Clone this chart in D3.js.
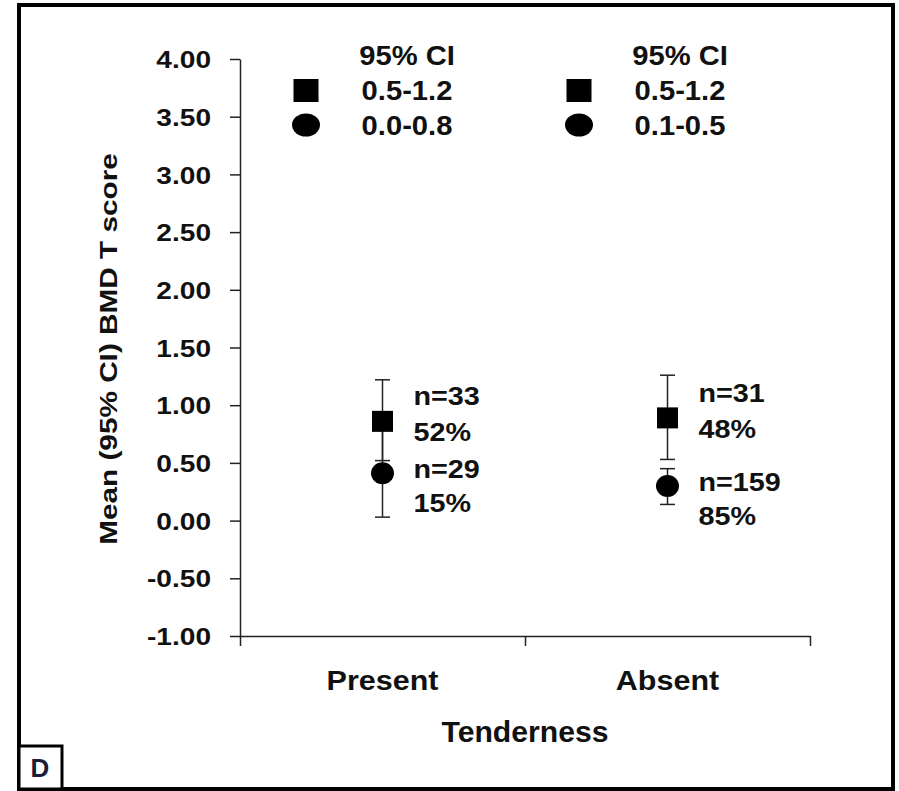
<!DOCTYPE html>
<html>
<head>
<meta charset="utf-8">
<script src="https://cdn.jsdelivr.net/npm/d3@7"></script>
<style>
  html, body { margin: 0; padding: 0; background: #fff; }
  svg { display: block; }
  text { font-family: "Liberation Sans", Arial, sans-serif; fill: #111; }
</style>
</head>
<body>
<svg id="chart" width="899" height="791"></svg>
<script>
// ---------- data ----------
const categories = ["Present", "Absent"];
const squareMean = [0.86, 0.89];
const squareLow  = [0.52, 0.53];
const squareHigh = [1.22, 1.26];
const circleMean = [0.41, 0.30];
const circleLow  = [0.03, 0.14];
const circleHigh = [0.79, 0.45];
const squareN    = ["n=33", "n=31"];
const squarePct  = ["52%", "48%"];
const circleN    = ["n=29", "n=159"];
const circlePct  = ["15%", "85%"];
const legendTitle = "95% CI";
const squareCI   = ["0.5-1.2", "0.5-1.2"];
const circleCI   = ["0.0-0.8", "0.1-0.5"];
const yTicks     = [-1.0, -0.5, 0.0, 0.5, 1.0, 1.5, 2.0, 2.5, 3.0, 3.5, 4.0];
const yTitle     = "Mean (95% CI) BMD T score";
const xTitle     = "Tenderness";
const panelLabel = "D";

// ---------- layout ----------
(function () {
const svg = d3.select("#chart");
const pLeft = 240, pRight = 810, pTop = 59, pBottom = 636;

const y = d3.scaleLinear().domain([-1, 4]).range([pBottom, pTop]);
const xEdge = d3.scaleLinear().domain([0, categories.length]).range([pLeft, pRight]);
const x = d3.scalePoint().domain(categories).range([pLeft, pRight]).padding(0.5);

function txt(g, s, tx, ty, size, sx, anchor, weight) {
  return g.append("text")
    .attr("transform", `translate(${tx},${ty}) scale(${sx},1)`)
    .attr("text-anchor", anchor || "start")
    .style("font-size", size + "px")
    .style("font-weight", weight || "bold")
    .text(s);
}

// outer frame
svg.append("rect").attr("x", 19).attr("y", 5).attr("width", 874).attr("height", 784)
  .attr("fill", "none").attr("stroke", "#000").attr("stroke-width", 4);

// y axis
const yAxis = svg.append("g").attr("transform", `translate(${pLeft},0)`)
  .call(d3.axisLeft(y).tickValues(yTicks).tickSize(10).tickSizeOuter(0)
    .tickFormat(d => d.toFixed(2)));
yAxis.select(".domain").attr("stroke", "#222").attr("stroke-width", 1.5);
yAxis.selectAll(".tick line").attr("stroke", "#222").attr("stroke-width", 1.5);
yAxis.selectAll(".tick text")
  .attr("x", null).attr("dy", "0.36em")
  .attr("transform", "translate(-29,0) scale(1.17,1)")
  .attr("fill", "#111")
  .style("font-size", "24px").style("font-weight", "bold")
  .style("font-family", '"Liberation Sans", Arial, sans-serif');

// x axis (ticks at category boundaries)
const xAxis = svg.append("g").attr("transform", `translate(0,${pBottom})`)
  .call(d3.axisBottom(xEdge).tickValues(d3.range(categories.length + 1))
    .tickSize(10).tickSizeOuter(0).tickFormat(""));
xAxis.select(".domain").attr("stroke", "#222").attr("stroke-width", 1.5);
xAxis.selectAll(".tick line").attr("stroke", "#222").attr("stroke-width", 1.5);

// category labels
categories.forEach(c => txt(svg, c, x(c), 690, 27, 1.13, "middle"));

// axis titles
txt(svg, xTitle, (pLeft + pRight) / 2, 742, 29, 1.04, "middle");
svg.append("text")
  .attr("transform", `translate(117,349) rotate(-90) scale(1.24,1)`)
  .attr("text-anchor", "middle")
  .style("font-size", "24px").style("font-weight", "bold")
  .text(yTitle);

// error bars
const capW = 15;
function errorBar(cx, lo, hi) {
  const g = svg.append("g").attr("stroke", "#222").attr("stroke-width", 1.5);
  g.append("line").attr("x1", cx).attr("x2", cx).attr("y1", y(lo)).attr("y2", y(hi));
  g.append("line").attr("x1", cx - capW / 2).attr("x2", cx + capW / 2).attr("y1", y(lo)).attr("y2", y(lo));
  g.append("line").attr("x1", cx - capW / 2).attr("x2", cx + capW / 2).attr("y1", y(hi)).attr("y2", y(hi));
}
categories.forEach((c, i) => {
  errorBar(x(c), squareLow[i], squareHigh[i]);
  errorBar(x(c), circleLow[i], circleHigh[i]);
});

// markers
const sq = 21;
svg.selectAll("rect.sq").data(categories).enter().append("rect")
  .attr("class", "sq")
  .attr("x", c => x(c) - sq / 2)
  .attr("y", (c, i) => y(squareMean[i]) - sq / 2)
  .attr("width", sq).attr("height", sq).attr("fill", "#000");
svg.selectAll("ellipse.ci").data(categories).enter().append("ellipse")
  .attr("class", "ci")
  .attr("cx", c => x(c))
  .attr("cy", (c, i) => y(circleMean[i]))
  .attr("rx", 11.5).attr("ry", 11).attr("fill", "#000");

// point annotations
categories.forEach((c, i) => {
  const lx = x(c) + 31;
  const ys = y(squareMean[i]), yc = y(circleMean[i]);
  txt(svg, squareN[i], lx, ys - 25 + 9, 25, 1.15, "start");
  txt(svg, squarePct[i], lx, ys + 11 + 9, 25, 1.15, "start");
  txt(svg, circleN[i], lx, yc - 4 + 9, 25, 1.15, "start");
  txt(svg, circlePct[i], lx, yc + 30 + 9, 25, 1.15, "start");
});

// legends (one per category)
const legMarkX = [306, 579];
const legTextX = [407, 680];
categories.forEach((c, i) => {
  txt(svg, legendTitle, legTextX[i], 65, 27, 1.08, "middle");
  svg.append("rect").attr("x", legMarkX[i] - 12.5).attr("y", 79)
    .attr("width", 25).attr("height", 23).attr("fill", "#000");
  txt(svg, squareCI[i], legTextX[i], 100, 27, 1.08, "middle");
  svg.append("ellipse").attr("cx", legMarkX[i]).attr("cy", 125)
    .attr("rx", 14).attr("ry", 11.5).attr("fill", "#000");
  txt(svg, circleCI[i], legTextX[i], 135, 27, 1.08, "middle");
});

// panel label box
svg.append("rect").attr("x", 19).attr("y", 746).attr("width", 43).attr("height", 43)
  .attr("fill", "#fff").attr("stroke", "#000").attr("stroke-width", 3);
svg.append("text").attr("x", 40).attr("y", 777).attr("text-anchor", "middle")
  .style("font-size", "26px").style("font-weight", "bold").style("fill", "#1b1b3a")
  .text(panelLabel);
})();
</script>
</body>
</html>
